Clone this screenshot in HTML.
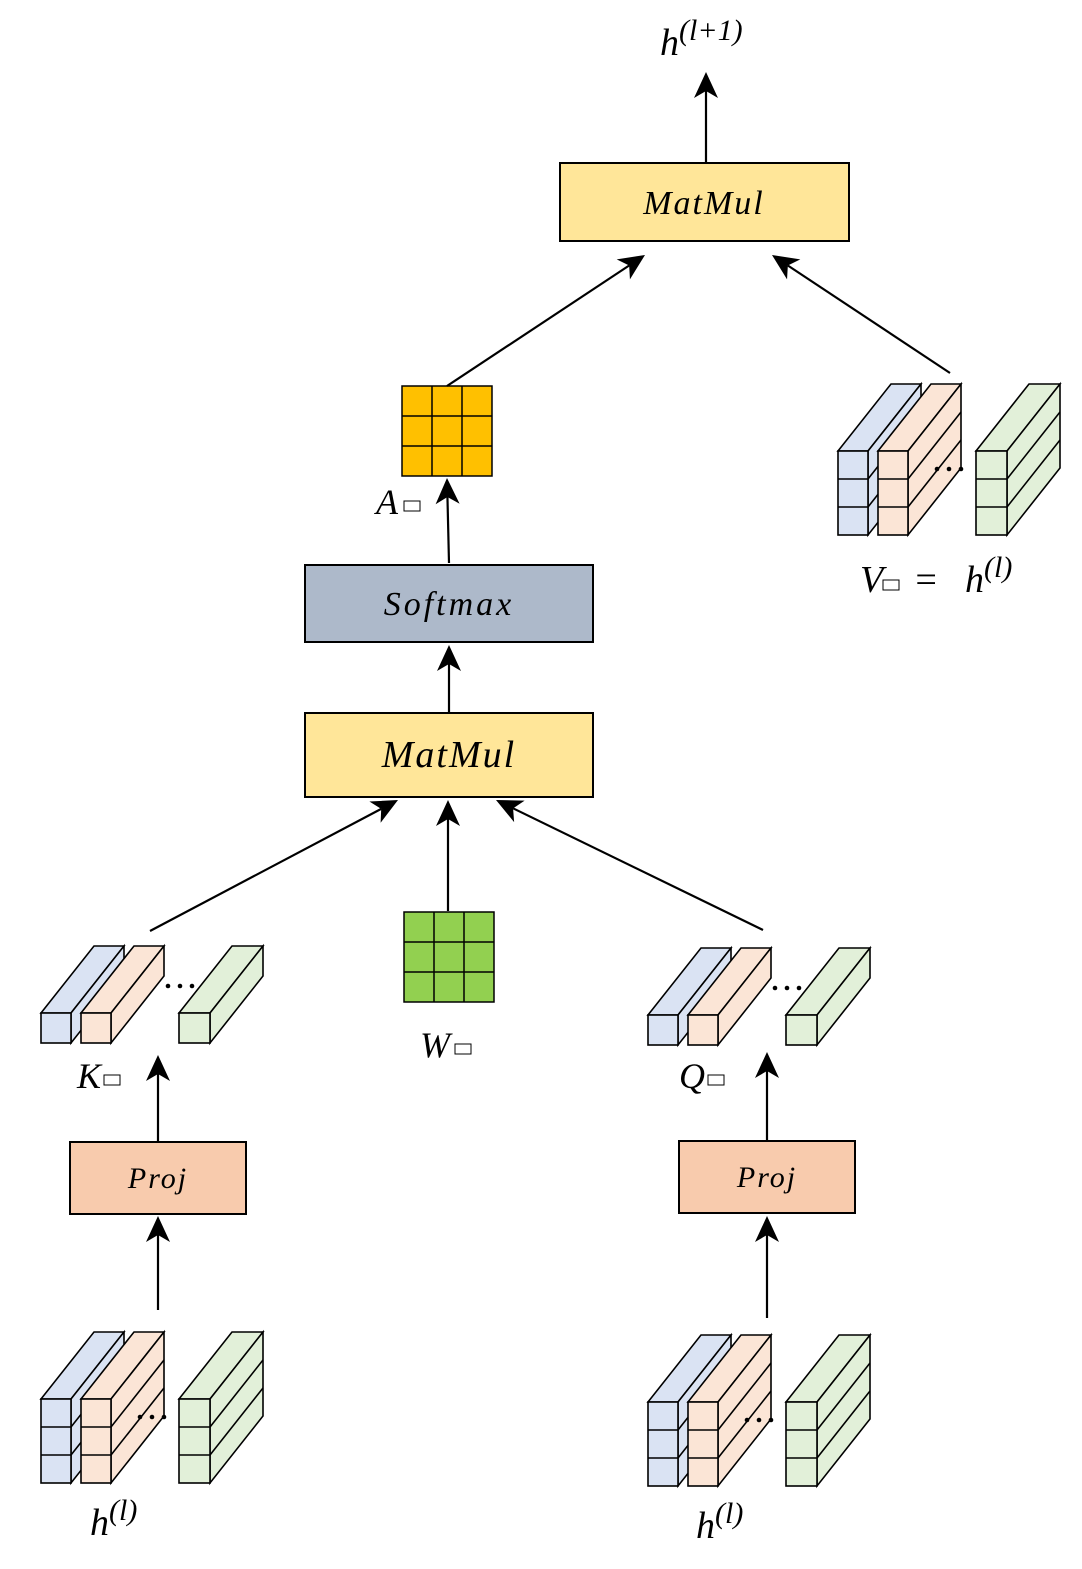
<!DOCTYPE html>
<html><head><meta charset="utf-8"><style>
html,body{margin:0;padding:0;background:#fff;}
svg{display:block;}
text{font-family:"Liberation Serif","DejaVu Serif",serif;font-style:italic;fill:#000;}
</style></head><body>
<svg id="s" width="1082" height="1569" viewBox="0 0 1082 1569" xmlns="http://www.w3.org/2000/svg">
<g id="g"></g>
<rect x="560" y="163" width="289" height="78" fill="#FFE699" stroke="#000" stroke-width="2"/>
<text x="704" y="214" font-size="34" text-anchor="middle" letter-spacing="2">MatMul</text>
<rect x="305" y="565" width="288" height="77" fill="#ADB9CA" stroke="#000" stroke-width="2"/>
<text x="449" y="615" font-size="34" text-anchor="middle" letter-spacing="3">Softmax</text>
<rect x="305" y="713" width="288" height="84" fill="#FFE699" stroke="#000" stroke-width="2"/>
<text x="449" y="767" font-size="38" text-anchor="middle" letter-spacing="2">MatMul</text>
<rect x="70" y="1142" width="176" height="72" fill="#F8CBAD" stroke="#000" stroke-width="2"/>
<text x="158" y="1188" font-size="30" text-anchor="middle" letter-spacing="2">Proj</text>
<rect x="679" y="1141" width="176" height="72" fill="#F8CBAD" stroke="#000" stroke-width="2"/>
<text x="767" y="1187" font-size="30" text-anchor="middle" letter-spacing="2">Proj</text>
<text x="660" y="55" font-size="38">h<tspan dy="-15" font-size="30">(l+1)</tspan></text>
<text x="376" y="514" font-size="36">A</text>
<rect x="404" y="501" width="16" height="10" fill="none" stroke="#000" stroke-width="1"/>
<text x="860" y="592" font-size="38">V</text>
<rect x="883" y="580" width="16" height="10" fill="none" stroke="#000" stroke-width="1"/>
<text x="913" y="592" font-size="38" font-style="normal">=</text>
<text x="965" y="592" font-size="38">h<tspan dy="-15" font-size="30">(l)</tspan></text>
<text x="420" y="1057" font-size="36">W</text>
<rect x="455" y="1044" width="16" height="10" fill="none" stroke="#000" stroke-width="1"/>
<text x="77" y="1088" font-size="36">K</text>
<rect x="104" y="1075" width="16" height="10" fill="none" stroke="#000" stroke-width="1"/>
<text x="679" y="1088" font-size="36">Q</text>
<rect x="708" y="1075" width="16" height="10" fill="none" stroke="#000" stroke-width="1"/>
<text x="90" y="1535" font-size="38">h<tspan dy="-15" font-size="30">(l)</tspan></text>
<text x="696" y="1538" font-size="38">h<tspan dy="-15" font-size="30">(l)</tspan></text>
</svg>
<script>
var NS='http://www.w3.org/2000/svg';
var g=document.getElementById('g');
function mk(t,a,name){var e=document.createElementNS(NS,t);for(var k in a)e.setAttribute(k,a[k]);


g.appendChild(e);return e;}
function arrow(x1,y1,x2,y2,name){
 var dx=x2-x1,dy=y2-y1,L=Math.sqrt(dx*dx+dy*dy),ux=dx/L,uy=dy/L,px=-uy,py=ux;
 var bx=x2-ux*26,by=y2-uy*26,nx=x2-ux*19,ny=y2-uy*19;
 mk('line',{x1:x1,y1:y1,x2:nx,y2:ny,stroke:'#000','stroke-width':2.2},name+'-line');
 mk('polygon',{points:x2+','+y2+' '+(bx+px*12)+','+(by+py*12)+' '+nx+','+ny+' '+(bx-px*12)+','+(by-py*12),fill:'#000'},name+'-head');
}
function box(x,y,w,h,rows,color,name){
 var dx=53,dy=-67;
 mk('polygon',{points:x+','+y+' '+(x+dx)+','+(y+dy)+' '+(x+w+dx)+','+(y+dy)+' '+(x+w)+','+y,fill:color,stroke:'#000','stroke-width':1.6},name+'-top');
 mk('polygon',{points:(x+w)+','+y+' '+(x+w+dx)+','+(y+dy)+' '+(x+w+dx)+','+(y+h+dy)+' '+(x+w)+','+(y+h),fill:color,stroke:'#000','stroke-width':1.6},name+'-side');
 var rh=h/rows;
 for(var i=1;i<rows;i++){mk('line',{x1:x+w,y1:y+i*rh,x2:x+w+dx,y2:y+i*rh+dy,stroke:'#000','stroke-width':1.6},name+'-side-row');}
 mk('rect',{x:x,y:y,width:w,height:h,fill:color,stroke:'#000','stroke-width':1.6},name+'-front');
 for(var i=1;i<rows;i++){mk('line',{x1:x,y1:y+i*rh,x2:x+w,y2:y+i*rh,stroke:'#000','stroke-width':1.6},name+'-front-row');}
}
function stack(x,y,h,rows,name,dotX,dotY){
 box(x,y,30,h,rows,'#DAE3F3',name+'-blue');
 box(x+40,y,30,h,rows,'#FBE5D6',name+'-peach');
 box(x+138,y,31,h,rows,'#E2F0D9',name+'-green');
 for(var i=0;i<3;i++)mk('circle',{cx:x+dotX+i*12,cy:dotY,r:2.3,fill:'#000'},name+'-dot');
}
function grid(x,y,s,color,name){
 mk('rect',{x:x,y:y,width:s,height:s,fill:color,stroke:'#000','stroke-width':1.5},name);
 for(var i=1;i<3;i++){
  mk('line',{x1:x+i*s/3,y1:y,x2:x+i*s/3,y2:y+s,stroke:'#000','stroke-width':1.5},name+'-grid');
  mk('line',{x1:x,y1:y+i*s/3,x2:x+s,y2:y+i*s/3,stroke:'#000','stroke-width':1.5},name+'-grid');
 }
}
stack(41,1399,84,3,'h-input-k',99,1417);
stack(648,1402,84,3,'h-input-q',99,1420);
stack(41,1013,30,1,'k-vectors',127,986);
stack(648,1015,30,1,'q-vectors',127,988);
stack(838,451,84,3,'v-vectors',99,469);
grid(402,386,90,'#FFC000','attention-matrix-a');
grid(404,912,90,'#92D050','weight-matrix-w');
arrow(706,163,706,72,'output-arrow');
arrow(447,386,645,255,'a-to-matmul-arrow');
arrow(950,373,772,255,'v-to-matmul-arrow');
arrow(449,563,447,478,'softmax-to-a-arrow');
arrow(449,713,449,645,'matmul-to-softmax-arrow');
arrow(150,931,398,800,'k-to-matmul-arrow');
arrow(448,911,448,800,'w-to-matmul-arrow');
arrow(763,930,496,800,'q-to-matmul-arrow');
arrow(158,1142,158,1055,'proj-to-k-arrow');
arrow(767,1141,767,1052,'proj-to-q-arrow');
arrow(158,1310,158,1216,'h-to-proj-k-arrow');
arrow(767,1318,767,1216,'h-to-proj-q-arrow');
</script>
</body></html>
